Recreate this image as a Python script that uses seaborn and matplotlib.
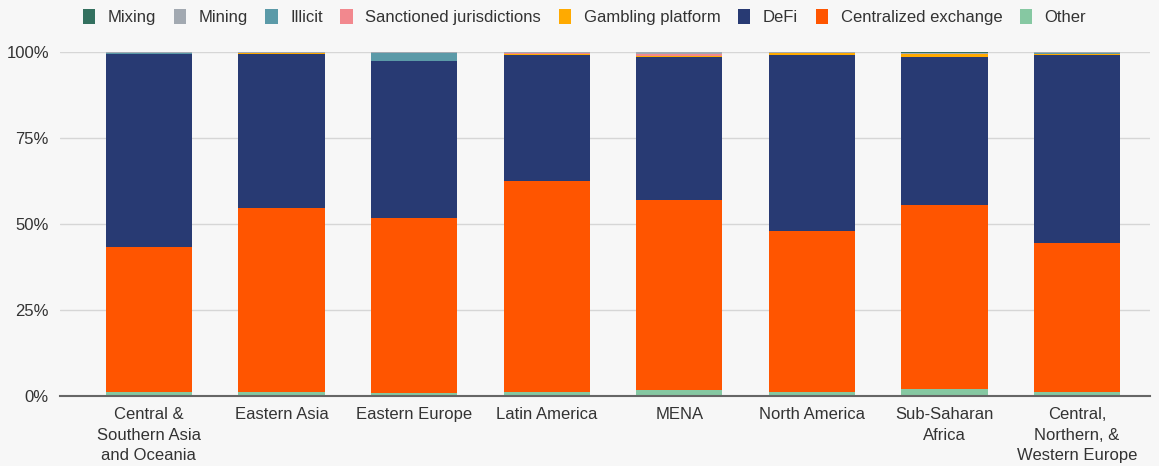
import matplotlib
matplotlib.use("Agg")
import matplotlib.pyplot as plt
import seaborn as sns
import numpy as np
import pandas as pd
from matplotlib.patches import Patch

regions = ["Central &\nSouthern Asia\nand Oceania", "Eastern Asia", "Eastern Europe",
           "Latin America", "MENA", "North America", "Sub-Saharan\nAfrica",
           "Central,\nNorthern, &\nWestern Europe"]

other       = [1.25, 1.25, 0.8, 1.25, 1.65, 1.25, 2.0, 1.25]
centralized = [42.15, 53.35, 51.0, 61.35, 55.35, 46.75, 53.6, 43.25]
defi        = [56.1, 44.9, 45.6, 36.4, 41.5, 51.1, 42.9, 54.5]
gambling    = [0.0, 0.1, 0.0, 0.5, 0.4, 0.5, 0.8, 0.5]
sanctioned  = [0.0, 0.0, 0.0, 0.1, 0.4, 0.0, 0.0, 0.0]
illicit     = [0.2, 0.1, 2.2, 0.1, 0.1, 0.1, 0.1, 0.3]
mining      = [0.2, 0.3, 0.3, 0.3, 0.6, 0.2, 0.2, 0.2]
mixing      = [0.1, 0.0, 0.1, 0.0, 0.0, 0.1, 0.4, 0.0]

series = [
    ("Other", other, "#86c8a2"),
    ("Centralized exchange", centralized, "#ff5500"),
    ("DeFi", defi, "#283a73"),
    ("Gambling platform", gambling, "#ffaa00"),
    ("Sanctioned jurisdictions", sanctioned, "#f2888e"),
    ("Illicit", illicit, "#5b9aa8"),
    ("Mining", mining, "#a2a9b1"),
    ("Mixing", mixing, "#33705f"),
]

sns.set_theme(style="white")
plt.rcParams["font.family"] = ["Liberation Sans", "DejaVu Sans"]
bg = "#f7f7f7"
fig = plt.figure(figsize=(11.59, 4.66), dpi=100, facecolor=bg)
ax = fig.add_axes([60/1159, 70/466, (1150-60)/1159, (396-52)/466])
ax.set_facecolor(bg)

cum = np.zeros(len(regions))
for name, vals, col in series:
    df = pd.DataFrame({"region": regions, "value": vals})
    sns.barplot(data=df, x="region", y="value", color=col, width=0.65,
                bottom=cum, ax=ax, linewidth=0, saturation=1, zorder=3)
    cum = cum + np.array(vals)

ax.set_ylim(0, 100)
ax.set_xlim(-0.67, 7.55)
ax.set_yticks([0, 25, 50, 75, 100])
ax.set_yticklabels(["0%", "25%", "50%", "75%", "100%"], fontsize=12, color="#333333")
ax.tick_params(axis="x", labelsize=12, colors="#333333", length=0, pad=8)
ax.tick_params(axis="y", length=0, pad=8)
for lab in ax.get_xticklabels():
    lab.set_linespacing(1.45)
ax.set_xlabel("")
ax.set_ylabel("")
ax.grid(axis="y", color="#d6d6d6", linewidth=1, zorder=0)
for s in ["top", "right", "left"]:
    ax.spines[s].set_visible(False)
ax.spines["bottom"].set_color("#666666")
ax.spines["bottom"].set_linewidth(1.5)
ax.spines["bottom"].set_zorder(5)

handles = [Patch(facecolor=col, edgecolor="none", label=name) for name, vals, col in reversed(series)]
fig.legend(handles=handles, loc="center", bbox_to_anchor=(0.5 + 5/1159, 1 - 17/466), ncol=8,
           frameon=False, fontsize=12, handlelength=0.75, handleheight=1.05,
           handletextpad=0.75, columnspacing=1.05, labelcolor="#333333")

fig.savefig("out.png", dpi=100, facecolor=bg)
